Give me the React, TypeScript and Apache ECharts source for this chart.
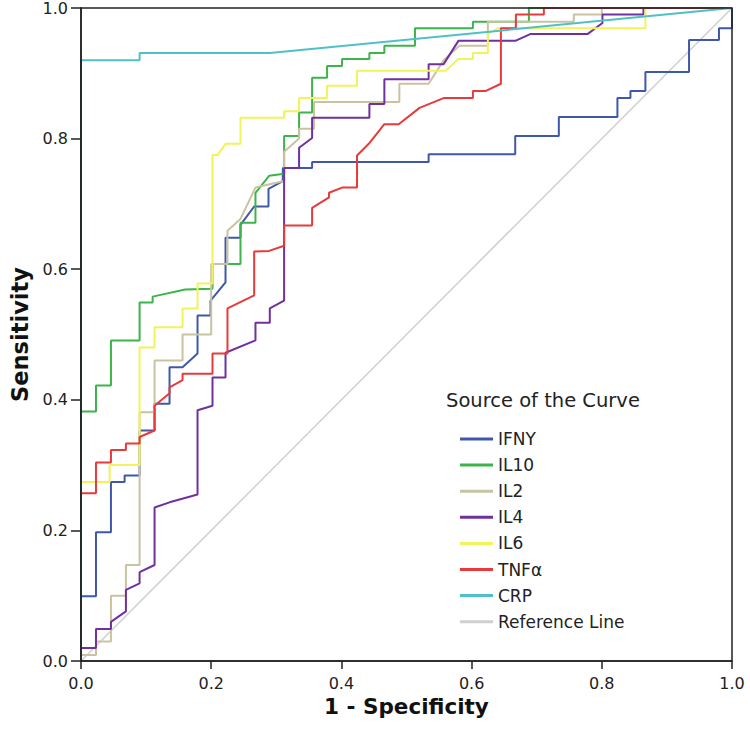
import React, { useEffect, useRef } from "react";
import * as echarts from "echarts";

const FONT = "'DejaVu Sans', 'Liberation Sans', Arial, sans-serif";

const seriesNames = ["IFNY", "IL10", "IL2", "IL4", "IL6", "TNFα", "CRP", "Reference Line"];
const seriesColors = ["#3f58aa", "#3cb44b", "#c9c3a2", "#70309e", "#f2f25a", "#e83a3a", "#4fc0c8", "#cfcfcf"];
const xTicks = [0, 0.2, 0.4, 0.6, 0.8, 1.0];

const ifny = [[0,0],[0,0.099],[0.023,0.099],[0.023,0.197],[0.046,0.197],[0.046,0.274],[0.067,0.274],[0.067,0.284],[0.09,0.284],[0.09,0.353],[0.113,0.353],[0.113,0.394],[0.136,0.394],[0.136,0.45],[0.156,0.45],[0.179,0.471],[0.179,0.529],[0.199,0.529],[0.199,0.552],[0.222,0.58],[0.222,0.648],[0.245,0.648],[0.245,0.668],[0.266,0.696],[0.288,0.696],[0.288,0.723],[0.31,0.735],[0.31,0.755],[0.355,0.755],[0.355,0.764],[0.534,0.764],[0.534,0.776],[0.667,0.776],[0.667,0.804],[0.734,0.804],[0.734,0.833],[0.824,0.833],[0.824,0.862],[0.844,0.862],[0.844,0.873],[0.867,0.873],[0.867,0.902],[0.934,0.902],[0.934,0.951],[0.98,0.951],[0.98,0.969],[1,0.969],[1,1]];
const il10 = [[0,0],[0,0.382],[0.023,0.382],[0.023,0.422],[0.046,0.422],[0.046,0.491],[0.09,0.491],[0.09,0.549],[0.11,0.549],[0.11,0.558],[0.16,0.569],[0.202,0.57],[0.202,0.608],[0.245,0.608],[0.245,0.671],[0.268,0.671],[0.268,0.717],[0.289,0.743],[0.312,0.746],[0.312,0.804],[0.335,0.804],[0.335,0.84],[0.355,0.84],[0.355,0.893],[0.378,0.893],[0.378,0.911],[0.401,0.911],[0.401,0.922],[0.443,0.922],[0.443,0.931],[0.466,0.931],[0.466,0.942],[0.513,0.942],[0.513,0.969],[0.602,0.969],[0.602,0.979],[0.688,0.979],[0.688,1],[1,1]];
const il2 = [[0,0],[0,0.009],[0.023,0.009],[0.023,0.03],[0.046,0.03],[0.046,0.1],[0.069,0.1],[0.069,0.147],[0.09,0.147],[0.09,0.381],[0.113,0.381],[0.113,0.46],[0.156,0.46],[0.156,0.5],[0.2,0.5],[0.2,0.608],[0.225,0.608],[0.225,0.659],[0.245,0.677],[0.268,0.725],[0.312,0.735],[0.312,0.78],[0.335,0.8],[0.335,0.815],[0.358,0.815],[0.358,0.856],[0.489,0.856],[0.489,0.884],[0.534,0.884],[0.557,0.92],[0.581,0.942],[0.625,0.942],[0.625,0.979],[0.757,0.979],[0.757,0.99],[0.8,0.99],[0.8,1],[1,1]];
const il4 = [[0,0],[0,0.02],[0.023,0.02],[0.023,0.049],[0.046,0.049],[0.046,0.06],[0.069,0.076],[0.069,0.109],[0.09,0.119],[0.09,0.136],[0.113,0.147],[0.113,0.235],[0.136,0.243],[0.179,0.255],[0.179,0.384],[0.202,0.391],[0.202,0.434],[0.222,0.434],[0.222,0.472],[0.268,0.491],[0.268,0.518],[0.29,0.518],[0.29,0.54],[0.312,0.552],[0.312,0.755],[0.335,0.755],[0.335,0.786],[0.355,0.801],[0.355,0.832],[0.443,0.832],[0.443,0.853],[0.466,0.853],[0.466,0.891],[0.534,0.891],[0.534,0.914],[0.557,0.914],[0.58,0.95],[0.668,0.95],[0.69,0.96],[0.778,0.96],[0.801,0.977],[0.801,0.99],[0.864,0.99],[0.864,1],[1,1]];
const il6 = [[0,0],[0,0.274],[0.044,0.274],[0.044,0.3],[0.09,0.3],[0.09,0.48],[0.113,0.48],[0.113,0.511],[0.156,0.511],[0.156,0.54],[0.179,0.54],[0.179,0.578],[0.202,0.578],[0.202,0.775],[0.21,0.775],[0.222,0.792],[0.245,0.792],[0.245,0.832],[0.312,0.832],[0.312,0.842],[0.335,0.842],[0.335,0.862],[0.378,0.862],[0.378,0.881],[0.424,0.881],[0.424,0.904],[0.56,0.904],[0.58,0.922],[0.602,0.922],[0.602,0.931],[0.625,0.931],[0.625,0.96],[0.64,0.969],[0.867,0.969],[0.867,1],[1,1]];
const tnfa = [[0,0],[0,0.257],[0.023,0.257],[0.023,0.304],[0.046,0.304],[0.046,0.323],[0.069,0.323],[0.069,0.333],[0.09,0.333],[0.09,0.343],[0.113,0.353],[0.113,0.391],[0.136,0.41],[0.136,0.419],[0.156,0.43],[0.156,0.44],[0.202,0.44],[0.202,0.471],[0.225,0.471],[0.225,0.54],[0.266,0.56],[0.266,0.627],[0.289,0.628],[0.312,0.636],[0.312,0.667],[0.355,0.667],[0.355,0.694],[0.381,0.71],[0.381,0.717],[0.401,0.725],[0.424,0.725],[0.424,0.774],[0.442,0.792],[0.466,0.822],[0.488,0.822],[0.52,0.847],[0.557,0.862],[0.602,0.862],[0.602,0.873],[0.622,0.873],[0.645,0.884],[0.645,0.969],[0.668,0.969],[0.668,0.99],[0.711,0.99],[0.711,1],[1,1]];
const crp = [[0,0],[0,0.92],[0.09,0.92],[0.09,0.931],[0.29,0.931],[1,1]];
const refLine = [[0,0],[1,1]];

const curves = [ifny, il10, il2, il4, il6, tnfa, crp, refLine];

export default function App() {
  const ref = useRef<HTMLDivElement>(null);
  useEffect(() => {
    document.body.style.margin = "0";
    const chart = echarts.init(ref.current!, null, { renderer: "svg" });
    const order = [7, 0, 1, 2, 3, 4, 5, 6];
    const series = order.map((i) => ({
      name: seriesNames[i],
      type: "line",
      data: curves[i],
      showSymbol: false,
      symbol: "none",
      color: seriesColors[i],
      lineStyle: { color: seriesColors[i], width: i === 7 ? 1.5 : 2 },
      silent: true,
      z: 2,
    }));
    chart.setOption({
      animation: false,
      title: {
        text: "Source of the Curve",
        left: 446,
        top: 390,
        padding: 0,
        textStyle: { fontFamily: FONT, fontSize: 19.5, fontWeight: "normal", color: "#222" },
      },
      legend: {
        data: seriesNames,
        orient: "vertical",
        left: 460,
        top: 430,
        padding: 0,
        icon: "rect",
        itemWidth: 33,
        itemHeight: 3,
        itemGap: 8.1,
        selectedMode: false,
        textStyle: { fontFamily: FONT, fontSize: 17, color: "#222", lineHeight: 18 },
      },
      grid: {
        left: 78,
        top: 7,
        width: 654,
        height: 654,
        show: true,
        borderColor: "#222",
        borderWidth: 1.5,
        z: 10,
      },
      xAxis: {
        type: "value",
        min: 0,
        max: 1,
        interval: 0.2,
        z: 10,
        name: "1 - Specificity",
        nameLocation: "middle",
        nameGap: 28,
        nameTextStyle: { fontFamily: FONT, fontSize: 21.5, fontWeight: "bold", color: "#111" },
        axisLine: { show: true, lineStyle: { color: "#222", width: 1.5 } },
        axisTick: { show: true, length: 8, lineStyle: { color: "#222", width: 1.5 } },
        axisLabel: {
          fontFamily: FONT,
          fontSize: 16,
          color: "#222",
          margin: 14,
          formatter: (v: number) => (xTicks.includes(Math.round(v * 10) / 10) ? v.toFixed(1) : ""),
        },
        splitLine: { show: false },
      },
      yAxis: {
        type: "value",
        min: 0,
        max: 1,
        interval: 0.2,
        z: 10,
        name: "Sensitivity",
        nameLocation: "middle",
        nameGap: 50,
        nameRotate: 90,
        nameTextStyle: { fontFamily: FONT, fontSize: 22.5, fontWeight: "bold", color: "#111" },
        axisLine: { show: true, lineStyle: { color: "#222", width: 1.5 } },
        axisTick: { show: true, length: 10, lineStyle: { color: "#222", width: 1.5 } },
        axisLabel: {
          fontFamily: FONT,
          fontSize: 16,
          color: "#222",
          margin: 13,
          formatter: (v: number) => v.toFixed(1),
        },
        splitLine: { show: false },
      },
      series,
    });
    return () => chart.dispose();
  }, []);
  return <div ref={ref} style={{ width: 750, height: 746 }} />;
}
